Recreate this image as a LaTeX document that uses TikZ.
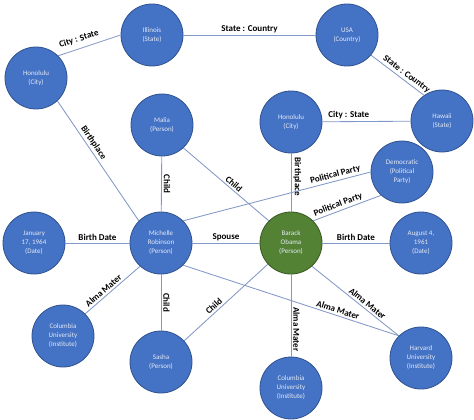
\documentclass[tikz,border=0pt]{standalone}
\usepackage{fontspec}
\setmainfont{Carlito}
\begin{document}
\definecolor{nodeblue}{RGB}{68,114,196}
\definecolor{nodeblueline}{RGB}{47,82,143}
\definecolor{nodegreen}{RGB}{84,130,53}
\definecolor{nodegreenline}{RGB}{56,87,35}
\definecolor{edgecol}{RGB}{130,152,198}
\definecolor{ntext}{RGB}{228,234,246}
\begin{tikzpicture}[x=1pt,y=-1pt,
  ent/.style={circle,minimum size=62pt,inner sep=0pt,fill=nodeblue,draw=nodeblueline,line width=0.8pt,
    text=ntext,align=center,font=\fontsize{7}{9}\selectfont},
  entg/.style={ent,fill=nodegreen,draw=nodegreenline},
  rel/.style={draw=edgecol,line width=0.85pt},
  lbl/.style={font=\fontsize{9}{10}\selectfont\bfseries,text=black,inner sep=2pt},
  vlbl/.style={lbl,rotate=-90,anchor=south}]
\useasboundingbox (0,0) rectangle (474,420);
\node[ent] (hl) at (36,78) {Honolulu\\(City)};
\node[ent] (il) at (152,35) {Illinois\\(State)};
\node[ent] (usa) at (347,35) {USA\\(Country)};
\node[ent] (hr) at (291,122) {Honolulu\\(City)};
\node[ent] (hw) at (442,121) {Hawaii\\(State)};
\node[ent] (ma) at (162,125) {Malia\\(Person)};
\node[ent] (dem) at (402,172) {Democratic\\(Political\\Party)};
\node[ent] (jan) at (34,243) {January\\17, 1964\\(Date)};
\node[ent] (mi) at (161,243) {Michelle\\Robinson\\(Person)};
\node[entg] (ba) at (291,243) {Barack\\Obama\\(Person)};
\node[ent] (aug) at (421,243) {August 4,\\1961\\(Date)};
\node[ent] (coll) at (63,336) {Columbia\\University\\(Institute)};
\node[ent] (sa) at (161,362) {Sasha\\(Person)};
\node[ent] (colb) at (291,388) {Columbia\\University\\(Institute)};
\node[ent] (hv) at (421,358) {Harvard\\University\\(Institute)};

\draw[rel] (hl.45) -- node[lbl,sloped,above=3pt,pos=0.38] {City : State} (il.west);
\draw[rel] (il) -- node[lbl,above] {State : Country} (usa);
\draw[rel] (usa.-40) -- node[lbl,sloped,above,pos=0.6] {State : Country} (hw.125);
\draw[rel] (hr) -- node[lbl,above,pos=0.3] {City : State} (hw);
\draw[rel] (hl.-47) -- node[lbl,sloped,above,pos=0.38] {Birthplace} (mi.135);
\draw[rel] (ma) -- node[vlbl,midway] {Child} (mi);
\draw[rel] (ma.-47) -- node[lbl,sloped,above,pos=0.55] {Child} (ba.135);
\draw[rel] (hr) -- node[vlbl,pos=0.4] {Birthplace} (ba);
\draw[rel] (mi.45) -- node[lbl,sloped,above,pos=0.82] {Political Party} (dem.west);
\draw[rel] (ba.45) -- node[lbl,sloped,above,pos=0.4] {Political Party} (dem.228);
\draw[rel] (jan) -- node[lbl,above] {Birth Date} (mi);
\draw[rel] (mi) -- node[lbl,above] {Spouse} (ba);
\draw[rel] (ba) -- node[lbl,above] {Birth Date} (aug);
\draw[rel] (coll.45) -- node[lbl,sloped,above,pos=0.4] {Alma Mater} (mi.228);
\draw[rel] (mi) -- node[vlbl,midway] {Child} (sa);
\draw[rel] (sa) -- node[lbl,sloped,above,pos=0.4] {Child} (ba);
\draw[rel] (mi.-45) -- node[lbl,sloped,above,pos=0.71] {Alma Mater} (hv.135);
\draw[rel] (ba.-48) -- node[lbl,sloped,above,pos=0.6] {Alma Mater} (hv.135);
\draw[rel] (ba) -- node[vlbl,pos=0.67] {Alma Mater} (colb);
\end{tikzpicture}
\end{document}
